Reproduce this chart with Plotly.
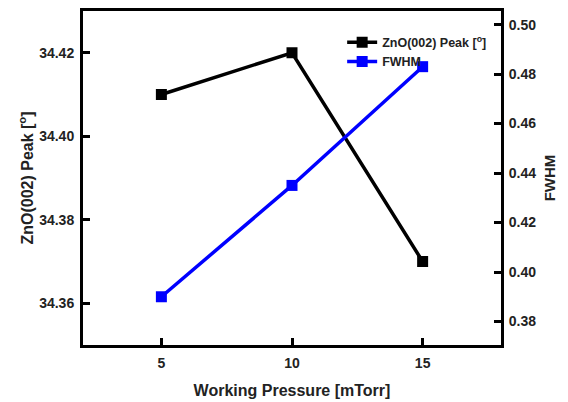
import plotly.graph_objects as go

pressure = [5, 10, 15]
peak = [34.41, 34.42, 34.37]
fwhm = [0.390, 0.435, 0.483]
x_ticks = [5, 10, 15]
left_ticks = [34.36, 34.38, 34.40, 34.42]
right_ticks = [0.38, 0.40, 0.42, 0.44, 0.46, 0.48, 0.50]

FONT = "Liberation Sans, Arial, sans-serif"
TXT = "#222222"

fig = go.Figure()
fig.add_trace(go.Scatter(x=pressure, y=peak, mode="lines+markers",
                         name="<b>ZnO(002) Peak [<sup>o</sup>]</b>",
                         line=dict(color="black", width=3.5),
                         marker=dict(symbol="square", size=11, color="black")))
fig.add_trace(go.Scatter(x=pressure, y=fwhm, mode="lines+markers",
                         name="<b>FWHM</b>", yaxis="y2",
                         line=dict(color="#0000ff", width=3.5),
                         marker=dict(symbol="square", size=11, color="#0000ff")))

axis_common = dict(showgrid=False, zeroline=False, showline=True, linecolor="black",
                   linewidth=3, ticks="inside", ticklen=7, tickwidth=3, tickcolor="black",
                   automargin=False,
                   tickfont=dict(family=FONT, size=14, color=TXT))

fig.update_layout(
    width=560, height=394,
    margin=dict(l=75, r=67, t=3, b=57),
    paper_bgcolor="white", plot_bgcolor="white",
    font=dict(family=FONT, color=TXT),
    showlegend=True,
    legend=dict(x=0.62, y=0.95, xanchor="left", yanchor="top",
                bgcolor="rgba(0,0,0,0)", font=dict(family=FONT, size=12.5, color=TXT),
                itemwidth=30, tracegroupgap=0),
    xaxis=dict(range=[2, 18], tickvals=x_ticks, mirror=True,
               ticktext=[f"<b>{v}</b>" for v in x_ticks],
               ticklabelstandoff=3,
               title=dict(text="<b>Working Pressure [mTorr]</b>",
                          font=dict(family=FONT, size=16, color=TXT), standoff=16),
               **axis_common),
    yaxis=dict(range=[34.35, 34.43], tickvals=left_ticks,
               ticktext=[f"<b>{v:.2f}</b>" for v in left_ticks],
               ticklabelstandoff=3,
               title=dict(text="<b>ZnO(002) Peak [<sup>o</sup>]</b>",
                          font=dict(family=FONT, size=16, color=TXT), standoff=2),
               **axis_common),
    yaxis2=dict(range=[0.3705, 0.5055], tickvals=right_ticks,
                ticktext=[f"<b>{v:.2f}</b>" for v in right_ticks],
                overlaying="y", side="right", ticklabelstandoff=2,
                title=dict(text="<b>FWHM</b>",
                           font=dict(family=FONT, size=15, color=TXT), standoff=10),
                **axis_common),
)

fig.write_html("out.html")
